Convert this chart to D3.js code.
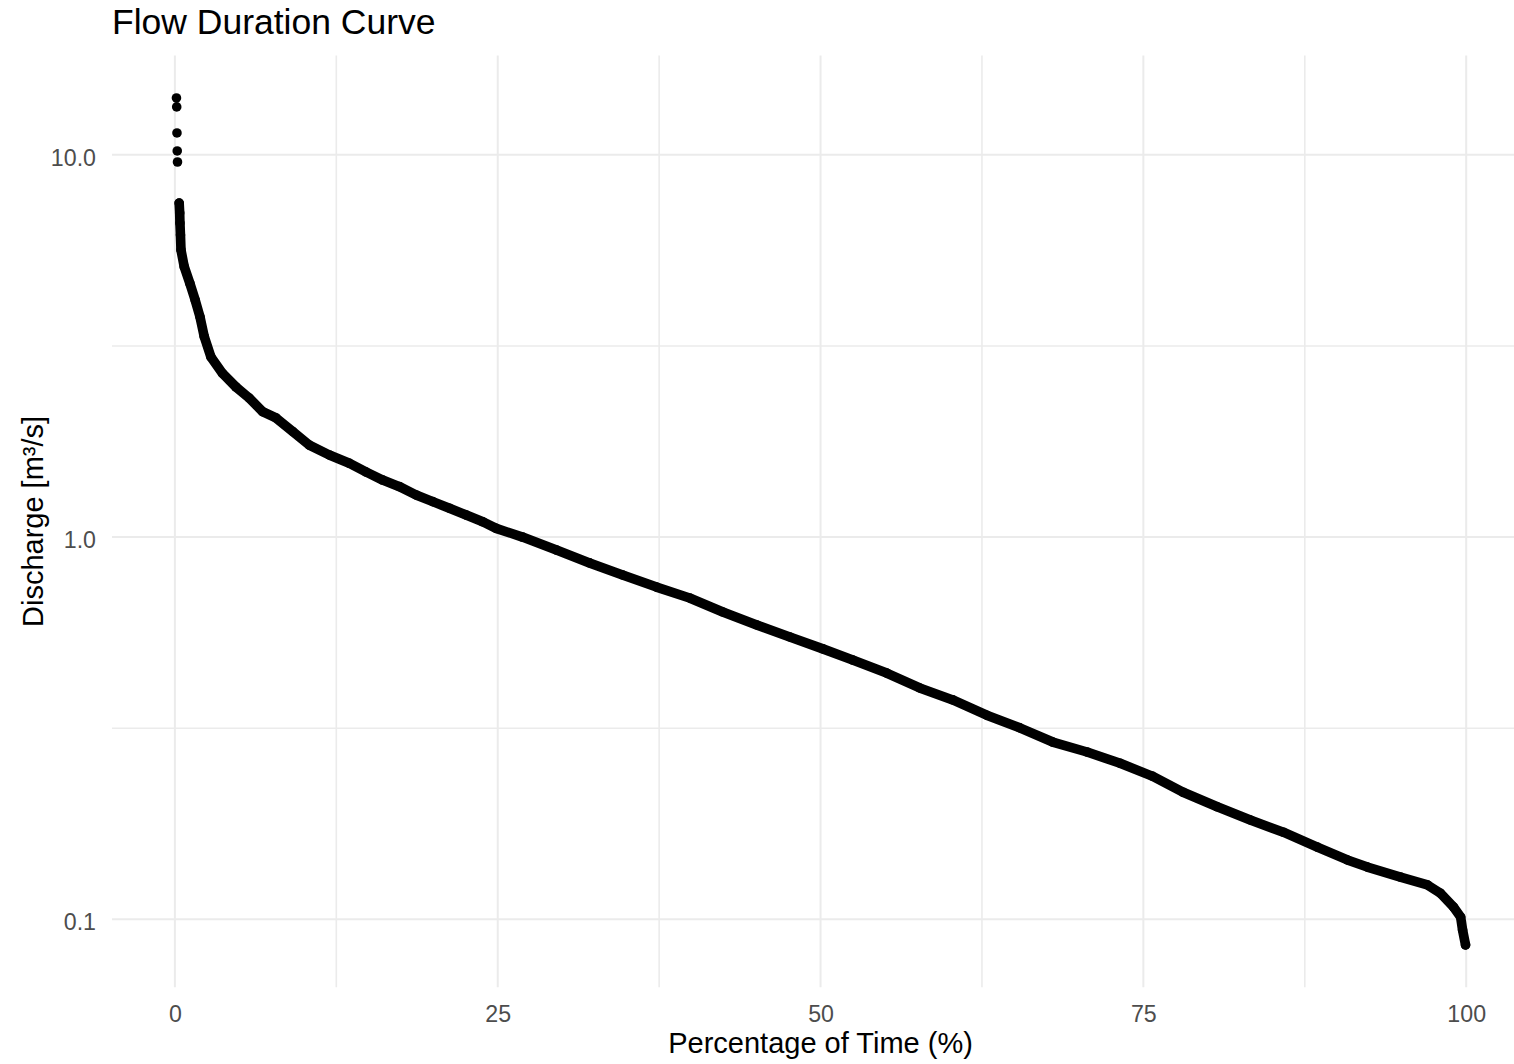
<!DOCTYPE html>
<html>
<head>
<meta charset="utf-8">
<title>Flow Duration Curve</title>
<script src="https://cdn.jsdelivr.net/npm/d3@7"></script>
<style>
  body { margin: 0; background: #ffffff; }
  svg { display: block; }
  text { font-family: "Liberation Sans", Arial, Helvetica, sans-serif; }
</style>
</head>
<body>
<svg id="chart" width="1514" height="1064"></svg>
<script>
// Highest recorded flows, plotted as isolated points
const peakPct = [0.12, 0.14, 0.16, 0.18, 0.20];
const peakQ   = [14.09, 13.35, 11.41, 10.24, 9.58];

// Exceedance percentage and discharge along the rest of the duration curve
const curvePct = [0.33, 0.37, 0.39, 0.43, 0.47, 0.72, 1.16, 1.57, 1.94, 2.27,
  2.79, 3.69, 4.73, 5.76, 6.79, 7.83, 9.12, 10.41, 11.96, 13.51,
  14.81, 16.09, 17.39, 18.68, 19.97, 21.26, 22.56, 23.84, 24.88, 26.92,
  29.55, 32.11, 34.67, 37.30, 39.86, 42.43, 45.06, 47.62, 50.18, 52.49,
  55.12, 57.68, 60.24, 62.87, 65.43, 67.98, 70.64, 73.20, 75.68, 78.08,
  80.72, 83.28, 85.84, 88.47, 90.80, 92.35, 94.91, 97.00, 98.01, 99.02,
  99.57, 99.72, 99.95];
const curveQ = [7.48, 7.05, 6.63, 6.17, 5.64, 5.10, 4.61, 4.17, 3.77, 3.35,
  2.96, 2.68, 2.47, 2.31, 2.13, 2.05, 1.89, 1.74, 1.64, 1.56,
  1.48, 1.41, 1.355, 1.289, 1.238, 1.190, 1.142, 1.097, 1.054, 1.00,
  0.925, 0.856, 0.796, 0.740, 0.693, 0.637, 0.589, 0.548, 0.510, 0.477,
  0.441, 0.403, 0.375, 0.342, 0.317, 0.291, 0.274, 0.256, 0.237, 0.215,
  0.197, 0.182, 0.169, 0.1545, 0.143, 0.137, 0.129, 0.123, 0.117, 0.1077,
  0.1014, 0.0938, 0.0857];

// Axis breaks
const xTicks = [0, 25, 50, 75, 100];
const xMinor = [12.5, 37.5, 62.5, 87.5];
const yTicks = [0.1, 1, 10];
const yTickLabels = ["0.1", "1.0", "10.0"];
const yMinor = [0.3162, 3.162];

const svg = d3.select("#chart");
const panel = { left: 112, right: 1530, top: 55.6, bottom: 987.3 };

// Domains padded by 5% of the data range (log space for discharge)
const allPct = peakPct.concat(curvePct);
const allQ = peakQ.concat(curveQ);
const [pMin, pMax] = d3.extent(allPct);
const pPad = (pMax - pMin) * 0.05;
const x = d3.scaleLinear()
  .domain([pMin - pPad, pMax + pPad])
  .range([panel.left, panel.right]);

const [qMin, qMax] = d3.extent(allQ);
const lMin = Math.log10(qMin), lMax = Math.log10(qMax);
const lPad = (lMax - lMin) * 0.05;
const y = d3.scaleLog()
  .domain([Math.pow(10, lMin - lPad), Math.pow(10, lMax + lPad)])
  .range([panel.bottom, panel.top]);

const gridColor = "#ebebeb";
const pointR = 4.8;

// Grid lines
const grid = svg.append("g").attr("class", "grid");
grid.selectAll("line.xminor").data(xMinor).join("line")
  .attr("x1", d => x(d)).attr("x2", d => x(d))
  .attr("y1", panel.top).attr("y2", panel.bottom)
  .attr("stroke", gridColor).attr("stroke-width", 1.6);
grid.selectAll("line.yminor").data(yMinor).join("line")
  .attr("x1", panel.left).attr("x2", panel.right)
  .attr("y1", d => y(d)).attr("y2", d => y(d))
  .attr("stroke", gridColor).attr("stroke-width", 1.6);
grid.selectAll("line.xmajor").data(xTicks).join("line")
  .attr("x1", d => x(d)).attr("x2", d => x(d))
  .attr("y1", panel.top).attr("y2", panel.bottom)
  .attr("stroke", gridColor).attr("stroke-width", 2);
grid.selectAll("line.ymajor").data(yTicks).join("line")
  .attr("x1", panel.left).attr("x2", panel.right)
  .attr("y1", d => y(d)).attr("y2", d => y(d))
  .attr("stroke", gridColor).attr("stroke-width", 2);

// Axes (labels only, no axis lines or tick marks)
const xAxis = svg.append("g")
  .attr("transform", `translate(0,${panel.bottom})`)
  .call(d3.axisBottom(x).tickValues(xTicks).tickFormat(d3.format("d")).tickSize(0));
xAxis.select(".domain").remove();
xAxis.selectAll("text")
  .attr("y", 34.7).attr("dy", 0)
  .attr("fill", "#4d4d4d").style("font-size", "23.2px")
  .style("font-family", '"Liberation Sans", Arial, sans-serif');

const yAxis = svg.append("g")
  .attr("transform", `translate(${panel.left},0)`)
  .call(d3.axisLeft(y).tickValues(yTicks).tickFormat((d, i) => yTickLabels[i]).tickSize(0).tickPadding(16));
yAxis.select(".domain").remove();
yAxis.selectAll("text")
  .attr("dy", "0.45em")
  .attr("fill", "#4d4d4d").style("font-size", "23.2px")
  .style("font-family", '"Liberation Sans", Arial, sans-serif');

// Curve: overlapping daily points drawn as a thick trace plus point markers
const line = d3.line().x((d, i) => x(curvePct[i])).y(d => y(d));
svg.append("path")
  .datum(curveQ)
  .attr("d", line)
  .attr("fill", "none")
  .attr("stroke", "#000")
  .attr("stroke-width", pointR * 2)
  .attr("stroke-linecap", "round")
  .attr("stroke-linejoin", "round");

svg.append("g").selectAll("circle").data(curveQ).join("circle")
  .attr("cx", (d, i) => x(curvePct[i]))
  .attr("cy", d => y(d))
  .attr("r", pointR)
  .attr("fill", "#000");

svg.append("g").selectAll("circle").data(peakQ).join("circle")
  .attr("cx", (d, i) => x(peakPct[i]))
  .attr("cy", d => y(d))
  .attr("r", pointR)
  .attr("fill", "#000");

// Titles
svg.append("text")
  .attr("x", 112).attr("y", 34)
  .attr("fill", "#000").style("font-size", "35.5px")
  .text("Flow Duration Curve");

svg.append("text")
  .attr("x", (x(0) + x(100)) / 2).attr("y", 1053)
  .attr("text-anchor", "middle")
  .attr("fill", "#000").style("font-size", "29px")
  .text("Percentage of Time (%)");

svg.append("text")
  .attr("transform", `translate(43,${(panel.top + panel.bottom) / 2}) rotate(-90)`)
  .attr("text-anchor", "middle")
  .attr("fill", "#000").style("font-size", "29px")
  .text("Discharge [m³/s]");
</script>
</body>
</html>
